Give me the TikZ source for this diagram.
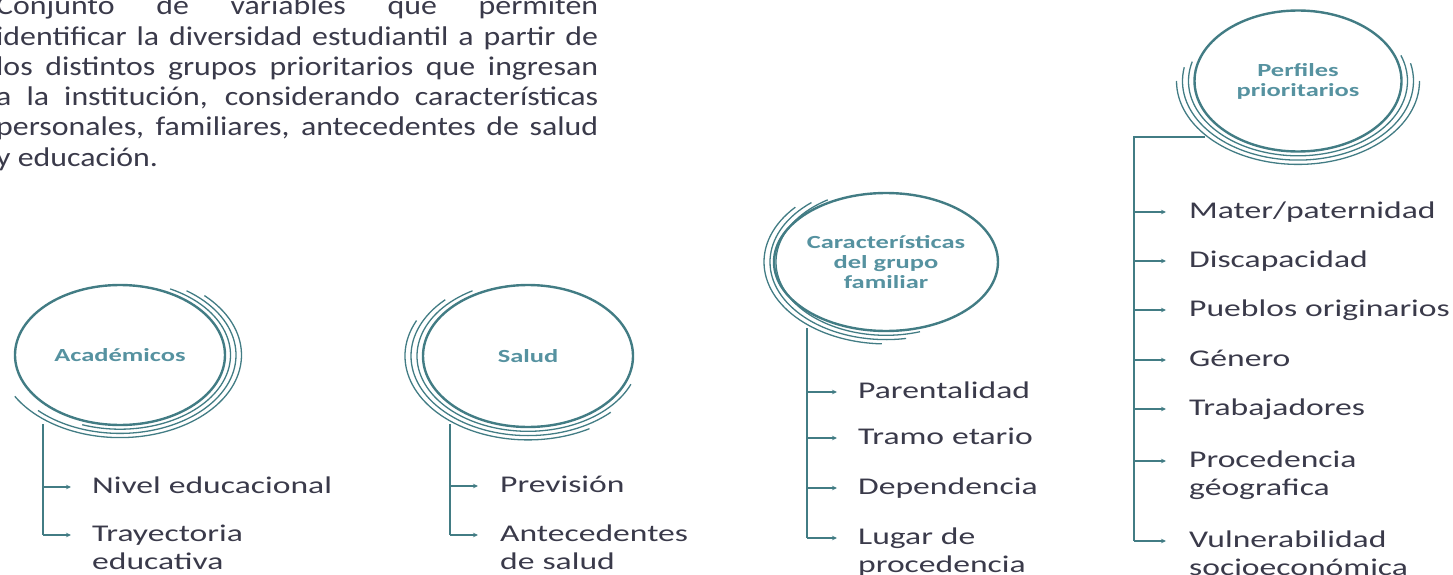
\documentclass[tikz,border=0pt]{standalone}
\usepackage{fontspec}
\setmainfont{Carlito}
\newfontfamily\parafont{Carlito}[FakeStretch=1.18]
\newfontfamily\itemfont{Carlito}[FakeStretch=1.40]
\newfontfamily\lblfont{Carlito}[FakeStretch=1.43]
\usetikzlibrary{shapes.geometric,arrows.meta,calc}
\definecolor{tealc}{RGB}{66,124,132}
\definecolor{lblc}{RGB}{86,146,160}
\definecolor{txtc}{RGB}{58,58,74}
\begin{document}
\begin{tikzpicture}[x=1pt,y=-1pt,
  circ/.style={draw=tealc, line width=2.4pt, ellipse, inner sep=0pt, text=lblc,
    font=\lblfont\bfseries\fontsize{18.5}{20}\selectfont, align=center},
  ring/.style={draw=tealc, line width=1.3pt},
  trunk/.style={draw=tealc, line width=1.6pt},
  arr/.style={draw=tealc, line width=1.4pt, -{Stealth[length=5pt,width=4.5pt]}},
  item/.style={anchor=base west, text=txtc, font=\itemfont\fontsize{24}{28}\selectfont,
    inner sep=0pt, text width=280pt, align=left},
  para/.style={anchor=base west, text=txtc, font=\parafont\fontsize{27}{30.25}\selectfont,
    inner sep=0pt, text width=602pt, align=justify}
]
\useasboundingbox (0,0) rectangle (1453,575);
\clip (0,0) rectangle (1453,575);

% paragraph
\node[para] (intro) at (-4,15) {Conjunto de variables que permiten\linebreak
identificar la diversidad estudiantil a partir de\linebreak
los distintos grupos prioritarios que ingresan\linebreak
a la institución, considerando características\linebreak
personales, familiares, antecedentes de salud\linebreak
y educación.};

% circles
\node[circ, minimum width=210pt, minimum height=140pt] (aca) at (120,355) {Académicos};
\node[circ, minimum width=210pt, minimum height=142pt] (sal) at (528,356) {Salud};
\node[circ, minimum width=208pt, minimum height=138pt] (car) at (886,262) {Características\\del grupo\\familiar};
\node[circ, minimum width=207pt, minimum height=141pt] (per) at (1298,81) {Perfiles\\prioritarios};

% rings (image angles: 0 right, 90 down)
\foreach \k/\s/\e in {1/297/470, 2/305/495, 3/314/510}
  \draw[ring] (aca.center) ++(\s:{105+5.5*\k} and {70+4.2*\k})
    arc[start angle=\s, end angle=\e, x radius={105+5.5*\k}, y radius={70+4.2*\k}];
\foreach \k/\s/\e in {1/240/22, 2/225/45, 3/205/60}
  \draw[ring] (sal.center) ++(\s:{105+6*\k} and {71+4.3*\k})
    arc[start angle=\s, end angle=\e, x radius={105+6*\k}, y radius={71+4.3*\k}];
\foreach \k/\s/\e in {1/238/72, 2/230/80, 3/222/92}
  \draw[ring] (car.center) ++(\s:{104+6*\k} and {69+4.3*\k})
    arc[start angle=\s, end angle=\e, x radius={104+6*\k}, y radius={69+4.3*\k}];
\foreach \k/\s/\e in {1/195/-20, 2/190/-13, 3/180/0}
  \draw[ring] (per.center) ++(\s:{103.5+6*\k} and {70.5+4.3*\k})
    arc[start angle=\s, end angle=\e, x radius={103.5+6*\k}, y radius={70.5+4.3*\k}];

% Académicos
\coordinate (acaT) at (43,424);
\node[item] (a1) at (92,493.5) {Nivel educacional};
\node[item] (a2) at (92,541.5) {Trayectoria\\educativa};
\draw[trunk] (acaT) -- ($(acaT |- a2.base west)+(0,-6.5)$);
\draw[arr] ($(acaT |- a1.base west)+(0,-6.5)$) -- ($(a1.base west)+(-21,-6.5)$);
\draw[arr] ($(acaT |- a2.base west)+(0,-6.5)$) -- ($(a2.base west)+(-21,-6.5)$);

% Salud
\coordinate (salT) at (450,424);
\node[item] (s1) at (500,492.5) {Previsión};
\node[item] (s2) at (500,541.5) {Antecedentes\\de salud};
\draw[trunk] (salT) -- ($(salT |- s2.base west)+(0,-6.5)$);
\draw[arr] ($(salT |- s1.base west)+(0,-6.5)$) -- ($(s1.base west)+(-22,-6.5)$);
\draw[arr] ($(salT |- s2.base west)+(0,-6.5)$) -- ($(s2.base west)+(-22,-6.5)$);

% Características
\coordinate (carT) at (807,328);
\node[item] (c1) at (858,398.5) {Parentalidad};
\node[item] (c2) at (858,444.5) {Tramo etario};
\node[item] (c3) at (858,494.5) {Dependencia};
\node[item] (c4) at (858,544.5) {Lugar de\\procedencia};
\draw[trunk] (carT) -- ($(carT |- c4.base west)+(0,-6.5)$);
\foreach \n in {c1,c2,c3,c4}
  \draw[arr] ($(carT |- \n.base west)+(0,-6.5)$) -- ($(\n.base west)+(-21,-6.5)$);

% Perfiles
\coordinate (perT) at (1205,137);
\coordinate (perC) at (1134,137);
\node[item] (p1) at (1189,218.5) {Mater/paternidad};
\node[item] (p2) at (1189,267.5) {Discapacidad};
\node[item] (p3) at (1189,316.5) {Pueblos originarios};
\node[item] (p4) at (1189,366.5) {Género};
\node[item] (p5) at (1189,415.5) {Trabajadores};
\node[item] (p6) at (1189,467.5) {Procedencia\\géografica};
\node[item] (p7) at (1189,547.5) {Vulnerabilidad\\socioeconómica};
\draw[trunk] (perT) -- (perC) -- ($(perC |- p7.base west)+(0,-6.5)$);
\foreach \n in {p1,p2,p3,p4,p5,p6,p7}
  \draw[arr] ($(perC |- \n.base west)+(0,-6.5)$) -- ($(\n.base west)+(-23,-6.5)$);
\end{tikzpicture}
\end{document}
